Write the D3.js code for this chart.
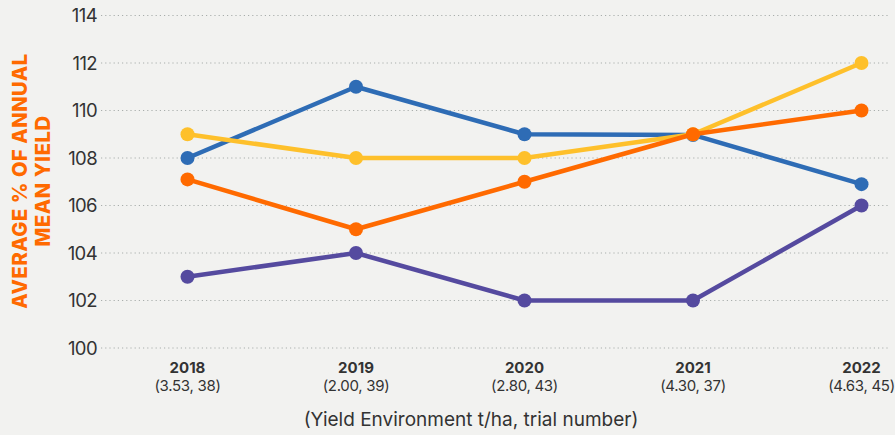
<!DOCTYPE html>
<html>
<head>
<meta charset="utf-8">
<script src="https://cdn.jsdelivr.net/npm/d3@7.9.0/dist/d3.min.js"></script>
<style>
  body { margin: 0; background: #f2f2f0; }
  svg { display: block; font-family: "Inter", "Noto Sans", sans-serif; }
</style>
</head>
<body>
<svg width="895" height="435"></svg>
<script>
// data
const years = ["2018", "2019", "2020", "2021", "2022"];
const yieldEnv = ["(3.53, 38)", "(2.00, 39)", "(2.80, 43)", "(4.30, 37)", "(4.63, 45)"];
const yTicks = [100, 102, 104, 106, 108, 110, 112, 114];

const blueVals = [108, 111, 109, 108.97, 106.9];
const yellowVals = [109, 108, 108, 109, 112];
const orangeVals = [107.1, 105, 107, 109, 110];
const purpleVals = [103, 104, 102, 102, 106];

// draw order: last on top
const series = [
  { name: "purple", color: "#554a9f", values: purpleVals },
  { name: "blue", color: "#2e6cb5", values: blueVals },
  { name: "yellow", color: "#fec02b", values: yellowVals },
  { name: "orange", color: "#ff6a00", values: orangeVals },
];

const svg = d3.select("svg");

let x = d3.scalePoint().domain(years).range([187.5, 861.5]);
let y = d3.scaleLinear().domain([100, 114]).range([348, 15.5]);

// gridlines
svg.append("g")
  .selectAll("line")
  .data(yTicks)
  .join("line")
  .attr("x1", 101)
  .attr("x2", 888)
  .attr("y1", (d) => y(d))
  .attr("y2", (d) => y(d))
  .attr("stroke", "#a9aeac")
  .attr("stroke-width", 1)
  .attr("stroke-dasharray", "1.2,3");

// y tick labels
svg.append("g")
  .selectAll("text")
  .data(yTicks)
  .join("text")
  .attr("x", 97)
  .attr("y", (d) => y(d))
  .attr("dy", "0.36em")
  .attr("text-anchor", "end")
  .attr("fill", "#333")
  .attr("font-size", 18.5)
  .attr("letter-spacing", "-0.6")
  .text((d) => d);

// y axis title (two lines, rotated)
let yTitle = svg.append("text")
  .attr("transform", "translate(0,181) rotate(-90)")
  .attr("text-anchor", "middle")
  .attr("fill", "#ff6a00")
  .attr("font-weight", 800)
  .attr("font-size", 20)
  .attr("letter-spacing", "0.6");
yTitle.append("tspan").attr("x", 0).attr("y", 27).text("AVERAGE % OF ANNUAL");
yTitle.append("tspan").attr("x", 0).attr("y", 50).text("MEAN YIELD");

// x labels
let xl = svg.append("g");
xl.selectAll("text.year")
  .data(years)
  .join("text")
  .attr("class", "year")
  .attr("x", (d) => x(d))
  .attr("y", 373)
  .attr("text-anchor", "middle")
  .attr("font-weight", 700)
  .attr("font-size", 15)
  .attr("fill", "#333")
  .text((d) => d);
xl.selectAll("text.env")
  .data(years)
  .join("text")
  .attr("class", "env")
  .attr("x", (d) => x(d))
  .attr("y", 391)
  .attr("text-anchor", "middle")
  .attr("font-size", 15)
  .attr("letter-spacing", "-0.3")
  .attr("fill", "#333")
  .text((d, i) => yieldEnv[i]);

svg.append("text")
  .attr("x", 471)
  .attr("y", 426)
  .attr("text-anchor", "middle")
  .attr("font-size", 19)
  .attr("fill", "#333")
  .text("(Yield Environment t/ha, trial number)");

// lines + markers
let line = d3.line()
  .x((d, i) => x(years[i]))
  .y((d) => y(d));

series.forEach((s) => {
  let g = svg.append("g");
  g.append("path")
    .attr("d", line(s.values))
    .attr("fill", "none")
    .attr("stroke", s.color)
    .attr("stroke-width", 4.5)
    .attr("stroke-linejoin", "round");
  g.selectAll("circle")
    .data(s.values)
    .join("circle")
    .attr("cx", (d, i) => x(years[i]))
    .attr("cy", (d) => y(d))
    .attr("r", 7)
    .attr("fill", s.color);
});
</script>
</body>
</html>
